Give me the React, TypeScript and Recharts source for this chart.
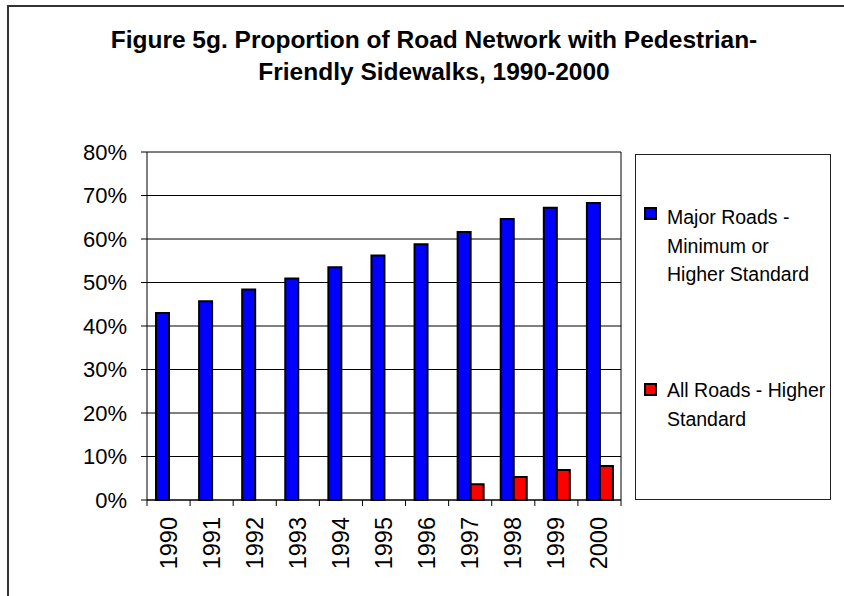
import { BarChart, Bar, XAxis, YAxis, CartesianGrid, Legend } from 'recharts'

const years = ['1990', '1991', '1992', '1993', '1994', '1995', '1996', '1997', '1998', '1999', '2000']
const majorRoads = [43.0, 45.7, 48.4, 50.9, 53.5, 56.2, 58.8, 61.6, 64.6, 67.2, 68.3]
const allRoads = [null, null, null, null, null, null, null, 3.6, 5.3, 6.9, 7.8]
const yTicks = [0, 10, 20, 30, 40, 50, 60, 70, 80]

const titleLines = ['Figure 5g. Proportion of Road Network with Pedestrian-', 'Friendly Sidewalks, 1990-2000']
const seriesKeys = ['major', 'all']
const seriesNames = ['Major Roads - Minimum or Higher Standard', 'All Roads - Higher Standard']
const seriesColors = ['#0000FF', '#FF0000']
const legendLines = [
  ['Major Roads -', 'Minimum or', 'Higher Standard'],
  ['All Roads - Higher', 'Standard'],
]

const data = years.map((year, i) => ({ year, major: majorRoads[i], all: allRoads[i] }))

const FONT = '"Liberation Sans", Arial, sans-serif'

// x labels rotated, with tick marks on the category boundaries
const YearTick = (props: any) => {
  const { x, y, payload, index, visibleTicksCount } = props
  const half = payload.offset ?? 0
  return (
    <g>
      <line x1={x - half} y1={y} x2={x - half} y2={y + 6} stroke="#000" />
      {index === visibleTicksCount - 1 && (
        <line x1={x + half} y1={y - 348} x2={x + half} y2={y + 6} stroke="#000" />
      )}
      <text
        transform={`translate(${x},${y}) rotate(-90)`}
        x={-17}
        dy="0.34em"
        textAnchor="end"
        fontSize={23.5}
        fill="#000"
      >
        {payload.value}
      </text>
    </g>
  )
}

const legendPos = [
  { square: 52, text: 48 },
  { square: 228, text: 221 },
]

const LegendBox = (props: any) => {
  const items = props.payload || []
  return (
    <div
      style={{
        position: 'relative',
        width: 196,
        height: 346,
        boxSizing: 'border-box',
        border: '1px solid #222',
        background: '#fff',
        fontFamily: FONT,
      }}
    >
      {seriesKeys.map((key, i) => {
        const entry = items.find((it: any) => it.dataKey === key)
        return (
          <div key={key}>
            <div
              style={{
                position: 'absolute',
                left: 8,
                top: legendPos[i].square,
                width: 13,
                height: 13,
                boxSizing: 'border-box',
                border: '2px solid #000',
                background: entry ? entry.color : seriesColors[i],
              }}
            />
            <div
              style={{
                position: 'absolute',
                left: 31,
                top: legendPos[i].text,
                fontSize: 19.5,
                lineHeight: '28.5px',
                color: '#000',
                whiteSpace: 'nowrap',
              }}
            >
              {legendLines[i].map((l) => (
                <div key={l}>{l}</div>
              ))}
            </div>
          </div>
        )
      })}
    </div>
  )
}

export default function App() {
  return (
    <div
      style={{
        position: 'absolute',
        left: 0,
        top: 0,
        width: 844,
        height: 596,
        overflow: 'hidden',
        background: '#fff',
        fontFamily: FONT,
      }}
    >
      <div
        style={{
          position: 'absolute',
          left: 7,
          top: 5,
          width: 900,
          height: 700,
          borderLeft: '2px solid #333',
          borderTop: '2px solid #333',
        }}
      />
      <div
        style={{
          position: 'absolute',
          left: 0,
          top: 24,
          width: 868,
          textAlign: 'center',
          fontWeight: 'bold',
          fontSize: 24.5,
          lineHeight: '32px',
          color: '#000',
        }}
      >
        {titleLines.map((t) => (
          <div key={t}>{t}</div>
        ))}
      </div>
      <BarChart
        width={844}
        height={596}
        data={data}
        margin={{ top: 152, right: 223, bottom: 6, left: 0 }}
        barSize={13}
        barGap={0}
      >
        <CartesianGrid stroke="#000" vertical={false} />
        <XAxis
          dataKey="year"
          height={90}
          stroke="#000"
          tickLine={false}
          tickSize={0}
          tickMargin={0}
          interval={0}
          tick={<YearTick />}
        />
        <YAxis
          width={147}
          domain={[0, 80]}
          ticks={yTicks}
          interval={0}
          stroke="#000"
          tickSize={6}
          tickMargin={14}
          tick={{ fill: '#000', fontSize: 22 }}
          tickFormatter={(v: number) => `${v}%`}
        />
        <Legend
          layout="vertical"
          align="center"
          verticalAlign="middle"
          content={<LegendBox />}
          wrapperStyle={{ left: 635, top: 154, width: 196, height: 346 }}
        />
        <Bar
          dataKey="major"
          name={seriesNames[0]}
          fill={seriesColors[0]}
          stroke="#000"
          strokeWidth={2}
          isAnimationActive={false}
        />
        <Bar
          dataKey="all"
          name={seriesNames[1]}
          fill={seriesColors[1]}
          stroke="#000"
          strokeWidth={2}
          isAnimationActive={false}
        />
      </BarChart>
    </div>
  )
}
